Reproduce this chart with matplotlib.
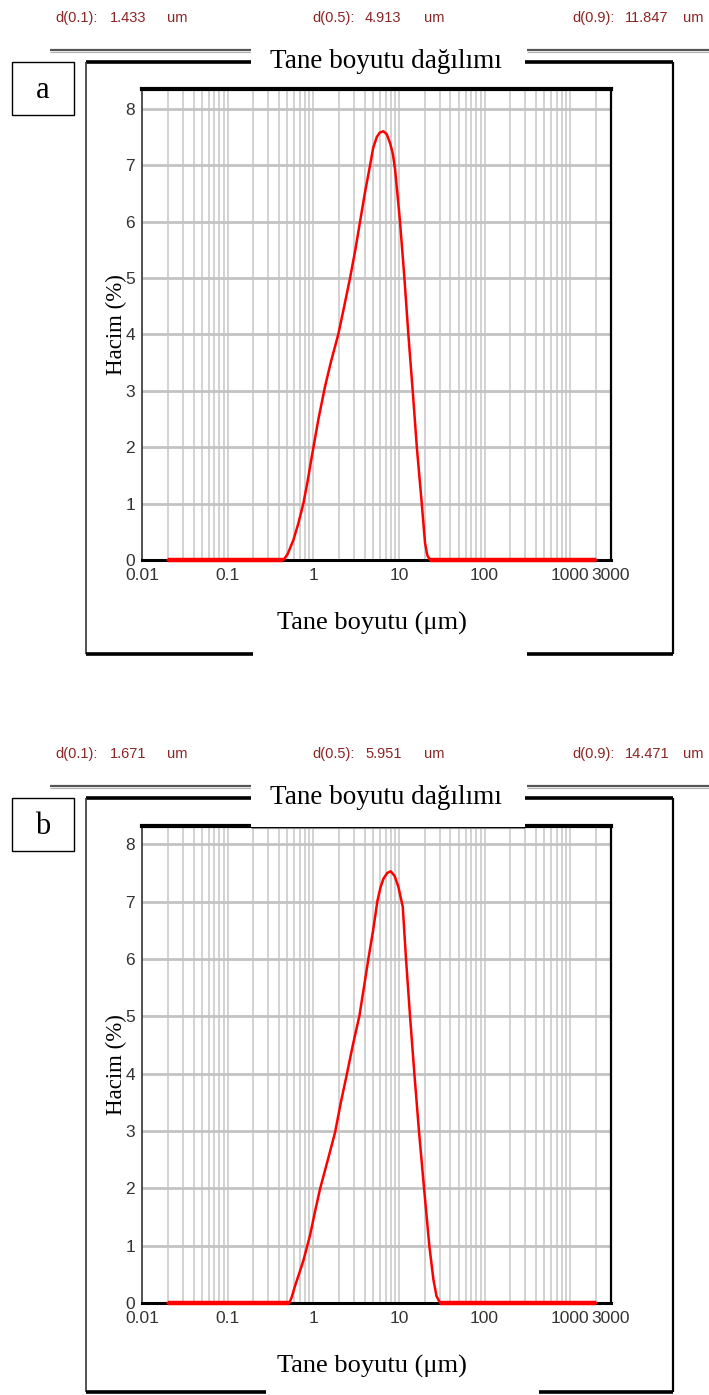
import numpy as np
import matplotlib
matplotlib.use('Agg')
import matplotlib.pyplot as plt
from matplotlib.lines import Line2D
from matplotlib.patches import Rectangle

W, H = 709, 1395

# particle size (um) and volume (%)
size_a = [0.02, 0.448, 0.5, 0.585, 0.67, 0.766, 0.86, 0.96, 1.15, 1.37, 1.6, 1.96, 2.3,
          2.69, 3.1, 3.52, 4.0, 4.61, 5.0, 5.52, 6.0, 6.6, 7.2, 7.89, 8.5, 9.0, 9.6,
          10.3, 11.6, 12.9, 14.5, 16.2, 18.5, 20.2, 21.5, 23.1, 2000]
vol_a = [0, 0, 0.1, 0.35, 0.65, 1.0, 1.4, 1.83, 2.5, 3.07, 3.5, 4.0, 4.5,
         5.0, 5.5, 6.0, 6.5, 7.0, 7.3, 7.5, 7.58, 7.6, 7.55, 7.39, 7.2, 6.94, 6.5,
         6.0, 5.0, 4.0, 3.0, 2.0, 1.0, 0.3, 0.08, 0, 0]

size_b = [0.02, 0.526, 0.56, 0.61, 0.68, 0.77, 0.92, 1.05, 1.2, 1.5, 1.8, 2.1, 2.46,
          2.9, 3.46, 3.9, 4.41, 5.0, 5.61, 6.1, 6.6, 7.3, 8.03, 8.9, 9.86, 11.1, 12.1,
          13.5, 15.2, 17.2, 19.7, 22.7, 25.3, 27.5, 30.3, 2000]
vol_b = [0, 0, 0.1, 0.29, 0.5, 0.75, 1.19, 1.6, 1.99, 2.53, 2.98, 3.5, 3.98,
         4.5, 5.01, 5.5, 6.01, 6.5, 7.01, 7.25, 7.40, 7.5, 7.53, 7.45, 7.26, 6.91, 6.01,
         5.0, 3.98, 2.98, 1.99, 0.99, 0.41, 0.12, 0, 0]

d_labels = ["d(0.1):", "d(0.5):", "d(0.9):"]
d_values_a = ["1.433", "4.913", "11.847"]
d_values_b = ["1.671", "5.951", "14.471"]

xticks = [0.01, 0.1, 1, 10, 100, 1000, 3000]
xtick_labels = ["0.01", "0.1", "1", "10", "100", "1000", "3000"]
yticks = [0, 1, 2, 3, 4, 5, 6, 7, 8]

title = "Tane boyutu dağılımı"
xlabel = "Tane boyutu (\u03bcm)"
ylabel = "Hacim (%)"

narrow = ['Liberation Sans Narrow', 'Liberation Sans', 'DejaVu Sans']
serif = ['Liberation Serif', 'DejaVu Serif']


def fx(x):
    return x / W


def fy(y):
    return 1 - y / H


fig = plt.figure(figsize=(W / 100, H / 100), dpi=100)


def hline(x0, x1, y, lw, color):
    fig.add_artist(Line2D([fx(x0), fx(x1)], [fy(y), fy(y)], lw=lw, color=color,
                          solid_capstyle='butt'))


def vline(x, y0, y1, lw, color):
    fig.add_artist(Line2D([fx(x), fx(x)], [fy(y0), fy(y1)], lw=lw, color=color,
                          solid_capstyle='butt'))


def white_box(x0, y0, x1, y1):
    fig.add_artist(Rectangle((fx(x0), fy(y1)), fx(x1) - fx(x0), fy(y0) - fy(y1),
                             facecolor='white', edgecolor='none', zorder=3))


def panel(sizes, vols, dvals, letter, top, ax_top, ax_bot, ymax, frame_bot, bot_gap):
    # header with d-values
    xs = [(55, 110, 167), (312, 365, 424), (572, 625, 683)]
    for (x1, x2, x3), lab, val in zip(xs, d_labels, dvals):
        for xx, s in ((x1, lab), (x2, val), (x3, "um")):
            fig.text(fx(xx), fy(top), s, color='#8b2525', fontsize=10.5,
                     family=narrow, va='center', ha='left')

    # double rule under header
    yl = top + 32
    for a, b in ((50, 251), (527, 709)):
        hline(a, b, yl, 1.6, '#555555')
        hline(a, b, yl + 2, 0.8, '#b0b0b0')

    # outer frame
    ft = top + 44
    hline(86, 673, ft, 2.6, 'black')
    vline(86, ft, frame_bot, 1.2, '#333333')
    vline(673, ft, frame_bot, 1.6, 'black')
    hline(86, 673, frame_bot, 2.6, 'black')

    ax = fig.add_axes([fx(142), fy(ax_bot), fx(611) - fx(142), fy(ax_top) - fy(ax_bot)])
    ax.set_xscale('log')
    ax.set_xlim(0.01, 3000)
    ax.set_ylim(0, ymax)

    # grid
    for dec in range(-2, 4):
        for k in range(1, 10):
            v = k * 10.0 ** dec
            if 0.01 < v < 3000:
                ax.axvline(v, color='#d2d2d2', lw=1.4, zorder=1)
    for yv in yticks[1:]:
        ax.axhline(yv, color='#c3c3c3', lw=2.0, zorder=1)

    sz = np.array(sizes)
    vl = np.array(vols, dtype=float)
    ax.plot(sz, vl, color='#ff0000', lw=1.8, zorder=4, clip_on=False)
    flat = np.where(vl == 0, vl, np.nan)
    ax.plot(sz, flat, color='#ff0000', lw=3.2, zorder=5, clip_on=False,
            solid_capstyle='butt')

    ax.spines['top'].set_linewidth(3.0)
    ax.spines['bottom'].set_linewidth(2.2)
    ax.spines['left'].set_linewidth(1.2)
    ax.spines['left'].set_color('#333333')
    ax.spines['right'].set_linewidth(1.6)
    ax.tick_params(length=0, colors='#333333')
    ax.set_xticks(xticks)
    ax.set_xticklabels(xtick_labels, family=narrow, fontsize=12.5)
    ax.xaxis.set_minor_locator(matplotlib.ticker.NullLocator())
    ax.set_yticks(yticks)
    ax.set_yticklabels([str(v) for v in yticks], family=narrow, fontsize=12.5)
    ax.tick_params(axis='x', pad=6)
    ax.tick_params(axis='y', pad=5)

    # y label
    fig.text(fx(116), fy((ax_top + ax_bot) / 2), ylabel, rotation=90, family=serif,
             fontsize=16.5, ha='center', va='center')

    # title with white background breaking the rules
    white_box(251, yl - 3, 525, ax_top - (3 if letter == 'a' else -1))
    fig.text(fx(386), fy(ft), title, family=serif, fontsize=19.5,
             ha='center', va='center', zorder=4)

    # x label box breaking the bottom frame
    gx0, gx1 = bot_gap
    white_box(gx0, frame_bot - 3, gx1, frame_bot + 3)
    if letter == 'a':
        hline(gx0, gx1, frame_bot + 1, 1.2, 'black')
    fig.text(fx(372), fy(ax_bot + 63), xlabel, family=serif, fontsize=19,
             ha='center', va='center')

    # panel letter box
    fig.add_artist(Rectangle((fx(12), fy(ft + 53)), fx(74) - fx(12), fy(ft) - fy(ft + 53),
                             facecolor='white', edgecolor='black', lw=1.0))
    fig.text(fx(43), fy(ft + 28), letter, family=serif, fontsize=22,
             ha='center', va='center')
    return ax


panel(size_a, vol_a, d_values_a, 'a', 18, 89, 560, 8.35, 654, (253, 527))
panel(size_b, vol_b, d_values_b, 'b', 754, 826, 1303, 8.32, 1392, (266, 539))
# thin top edge of panel b under the title box
hline(251, 525, 828, 0.8, '#888888')

fig.savefig('out.png', dpi=100)
